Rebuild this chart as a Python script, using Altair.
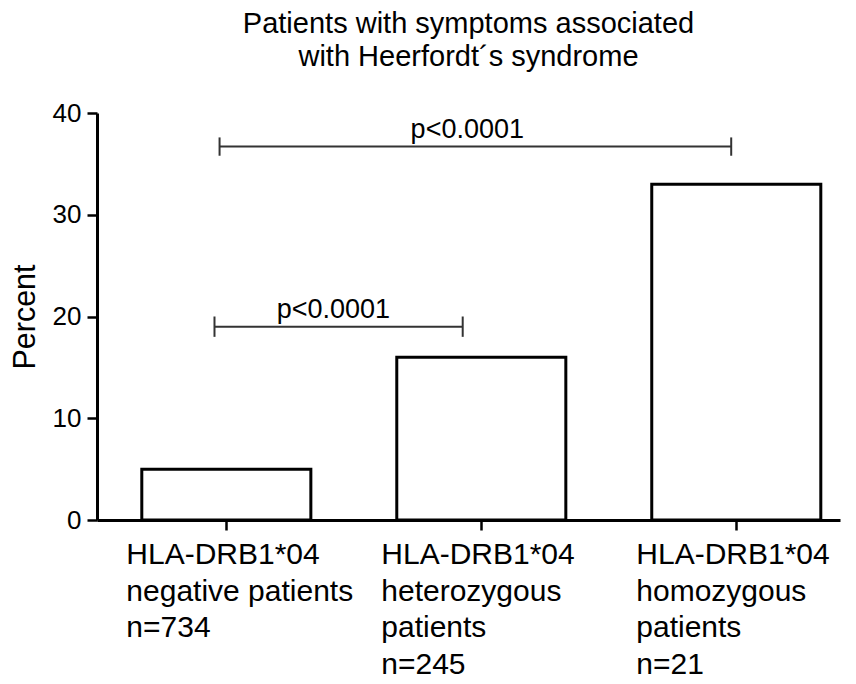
import altair as alt
import pandas as pd

# ---- data ----
categories = [
    "HLA-DRB1*04\nnegative patients\nn=734",
    "HLA-DRB1*04\nheterozygous\npatients\nn=245",
    "HLA-DRB1*04\nhomozygous\npatients\nn=21",
]
percent = [5, 16, 33]

bracket_from = [categories[0], categories[0]]
bracket_to = [categories[1], categories[2]]
bracket_y = [19.0, 36.7]
bracket_half = [1.0, 0.9]
bracket_label = ["p<0.0001", "p<0.0001"]
# style: relative band positions of bracket ends and label offset (px)
bracket_pos_from = [0.43, 0.46]
bracket_pos_to = [0.39, 0.47]
bracket_label_at = [categories[0], categories[1]]
bracket_label_dx = [107, -14]

y_ticks = [0, 10, 20, 30, 40]

FONT = "Liberation Sans"
W, H = 743, 407

bars_df = pd.DataFrame({"cat": categories, "pct": percent})

x_scale = alt.Scale(domain=categories, paddingInner=0.337, paddingOuter=0.1255, align=0.7)
y_scale = alt.Scale(domain=[0, 40], nice=False)

x_axis = alt.Axis(
    title=None,
    labels=False,
    tickSize=10,
    tickWidth=2.5,
    tickColor="black",
    domainColor="black",
    domainWidth=3,
)
y_axis = alt.Axis(
    title="Percent",
    values=y_ticks,
    grid=False,
    labelFontSize=26,
    labelFont=FONT,
    labelColor="black",
    labelPadding=6,
    tickSize=10,
    tickWidth=2.5,
    tickColor="black",
    domainColor="black",
    domainWidth=3,
    titleFontSize=30.5,
    titleFont=FONT,
    titleFontWeight="normal",
    titleColor="black",
    titlePadding=12,
)

bars = alt.Chart(bars_df).mark_bar(
    fill="white", stroke="black", strokeWidth=3
).encode(
    x=alt.X("cat:N", sort=categories, scale=x_scale, axis=x_axis),
    y=alt.Y("pct:Q", scale=y_scale, axis=y_axis),
)

cat_labels = alt.Chart(bars_df).transform_calculate(
    lines="split(datum.cat, '\\n')"
).mark_text(
    font=FONT, fontSize=30, color="black", align="left", baseline="top",
    dx=-100, lineHeight=36.7,
).encode(
    x=alt.X("cat:N", sort=categories, scale=x_scale),
    y=alt.value(H + 20),
    text="lines:N",
)

layers = [bars, cat_labels]
for i in range(len(bracket_y)):
    df = pd.DataFrame({
        "a": [bracket_from[i]],
        "b": [bracket_to[i]],
        "y": [bracket_y[i]],
        "lo": [bracket_y[i] - bracket_half[i]],
        "hi": [bracket_y[i] + bracket_half[i]],
        "lab": [bracket_label[i]],
        "labcat": [bracket_label_at[i]],
    })
    base = alt.Chart(df)
    hline = base.mark_rule(color="#333333", strokeWidth=2).encode(
        x=alt.X("a:N", sort=categories, scale=x_scale, bandPosition=bracket_pos_from[i]),
        x2=alt.X2("b:N", bandPosition=bracket_pos_to[i]),
        y=alt.Y("y:Q", scale=y_scale),
    )
    lt = base.mark_rule(color="#333333", strokeWidth=2).encode(
        x=alt.X("a:N", sort=categories, scale=x_scale, bandPosition=bracket_pos_from[i]),
        y=alt.Y("lo:Q", scale=y_scale),
        y2="hi:Q",
    )
    rt = base.mark_rule(color="#333333", strokeWidth=2).encode(
        x=alt.X("b:N", sort=categories, scale=x_scale, bandPosition=bracket_pos_to[i]),
        y=alt.Y("lo:Q", scale=y_scale),
        y2="hi:Q",
    )
    txt = base.mark_text(
        font=FONT, fontSize=27, color="black", baseline="bottom", dy=-3,
        dx=bracket_label_dx[i],
    ).encode(
        x=alt.X("labcat:N", sort=categories, scale=x_scale),
        y=alt.Y("y:Q", scale=y_scale),
        text="lab:N",
    )
    layers += [hline, lt, rt, txt]

chart = alt.layer(*layers).properties(
    width=W,
    height=H,
    padding={"left": 2, "top": 2, "right": 5, "bottom": 5},
    title=alt.TitleParams(
        text=["Patients with symptoms associated", "with Heerfordt\u00b4s syndrome"],
        font=FONT,
        fontSize=29,
        fontWeight="normal",
        color="black",
        anchor="middle",
        lineHeight=33,
        offset=28,
    ),
).configure_view(stroke=None).configure_axis(grid=False)

chart.save("out.html", embed_options={"renderer": "svg", "actions": False})
